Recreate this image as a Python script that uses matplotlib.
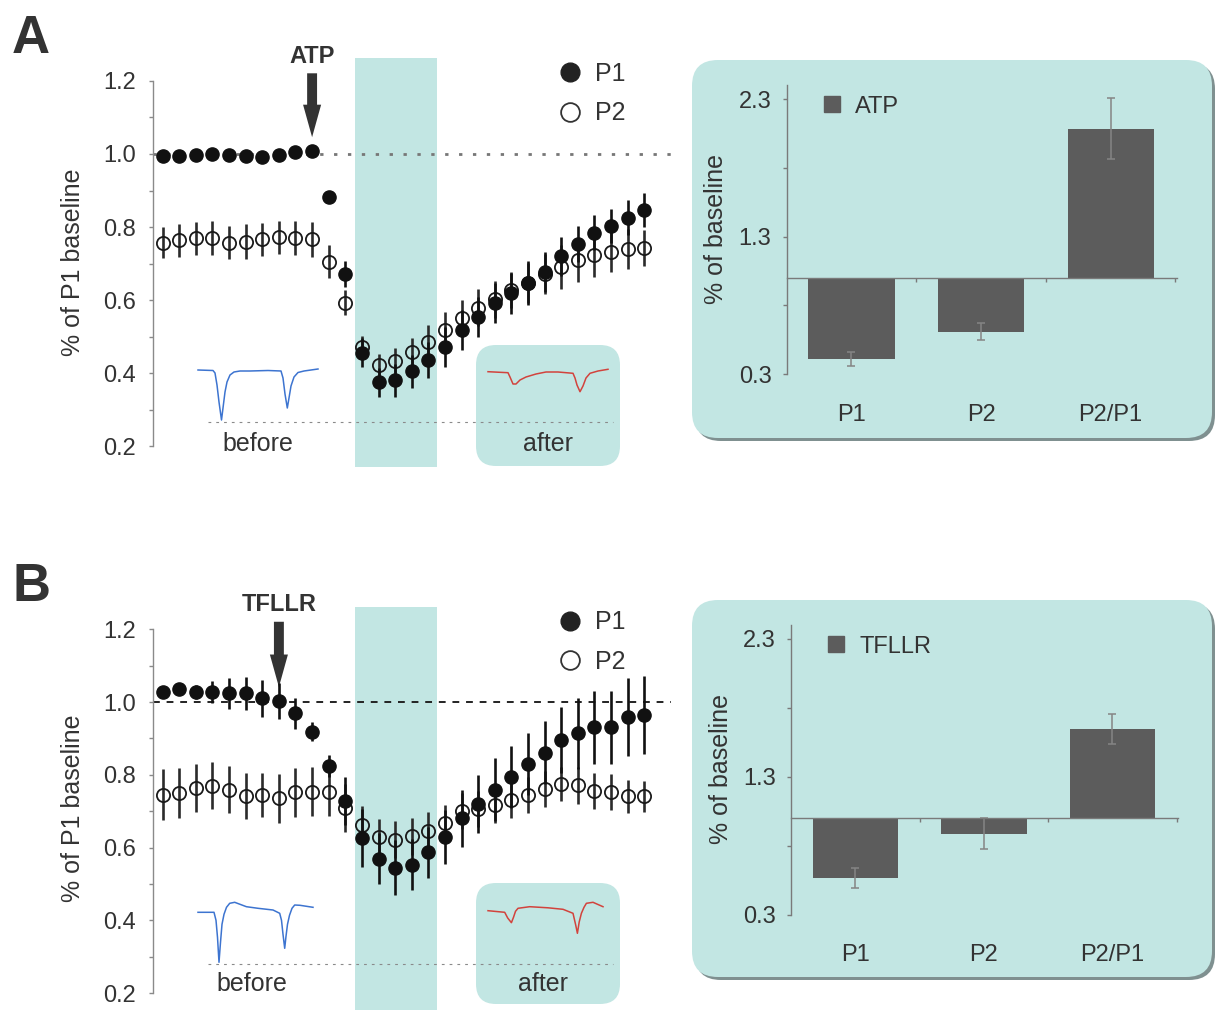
import matplotlib
matplotlib.use('Agg')
import matplotlib.pyplot as plt
from matplotlib.patches import FancyBboxPatch
from matplotlib.lines import Line2D
from matplotlib.transforms import blended_transform_factory

plt.rcParams['font.family'] = ['Liberation Sans', 'DejaVu Sans']

W, H = 1217, 1010
TEAL = '#c2e6e3'
TXT = '#333333'
SPINE = '#8a8a8a'

# ---------------- data ----------------
time_idx = list(range(30))
wash_first, wash_last = 12, 16

A_P1 = [0.995, 0.995, 0.998, 1.000, 0.997, 0.994, 0.992, 0.997, 1.005, 1.008,
        0.883, 0.671, 0.456, 0.375, 0.380, 0.405, 0.436, 0.472, 0.518, 0.554,
        0.591, 0.618, 0.647, 0.676, 0.720, 0.753, 0.784, 0.803, 0.826, 0.847]
A_P1_err = [0.006, 0.006, 0.006, 0.006, 0.006, 0.006, 0.006, 0.006, 0.006, 0.006,
            0.010, 0.035, 0.040, 0.040, 0.045, 0.045, 0.050, 0.055, 0.055, 0.055,
            0.055, 0.055, 0.060, 0.055, 0.053, 0.050, 0.048, 0.046, 0.048, 0.046]
A_P2 = [0.757, 0.764, 0.769, 0.769, 0.757, 0.760, 0.766, 0.772, 0.769, 0.766,
        0.705, 0.593, 0.472, 0.422, 0.434, 0.457, 0.486, 0.518, 0.550, 0.579,
        0.602, 0.627, 0.647, 0.672, 0.691, 0.710, 0.723, 0.732, 0.739, 0.743]
A_P2_err = [0.042, 0.045, 0.045, 0.047, 0.045, 0.048, 0.045, 0.045, 0.047, 0.047,
            0.045, 0.035, 0.030, 0.030, 0.035, 0.040, 0.045, 0.050, 0.050, 0.050,
            0.050, 0.050, 0.055, 0.055, 0.060, 0.060, 0.060, 0.055, 0.055, 0.050]

B_P1 = [1.028, 1.035, 1.027, 1.027, 1.024, 1.024, 1.010, 1.003, 0.969, 0.919,
        0.825, 0.727, 0.627, 0.569, 0.545, 0.553, 0.587, 0.629, 0.681, 0.720,
        0.759, 0.794, 0.829, 0.861, 0.896, 0.914, 0.930, 0.930, 0.958, 0.964]
B_P1_err = [0.010, 0.010, 0.020, 0.030, 0.042, 0.045, 0.050, 0.050, 0.043, 0.025,
            0.030, 0.066, 0.080, 0.070, 0.075, 0.070, 0.070, 0.075, 0.078, 0.080,
            0.087, 0.086, 0.085, 0.087, 0.090, 0.098, 0.099, 0.101, 0.107, 0.107]
B_P2 = [0.745, 0.750, 0.764, 0.770, 0.759, 0.741, 0.745, 0.736, 0.752, 0.754,
        0.752, 0.709, 0.663, 0.628, 0.622, 0.631, 0.647, 0.668, 0.700, 0.706,
        0.718, 0.732, 0.745, 0.761, 0.775, 0.771, 0.756, 0.753, 0.741, 0.741]
B_P2_err = [0.070, 0.068, 0.066, 0.065, 0.065, 0.063, 0.060, 0.067, 0.067, 0.068,
            0.064, 0.066, 0.050, 0.050, 0.050, 0.050, 0.050, 0.050, 0.050, 0.050,
            0.050, 0.050, 0.050, 0.050, 0.046, 0.050, 0.050, 0.050, 0.045, 0.043]

bar_categories = ['P1', 'P2', 'P2/P1']
A_bar = [0.411, 0.609, 2.087]
A_bar_err = [0.052, 0.060, 0.224]
B_bar = [0.565, 0.888, 1.647]
B_bar_err = [0.070, 0.110, 0.110]

y_ticks = [0.2, 0.4, 0.6, 0.8, 1.0, 1.2]
y_minor = [0.3, 0.5, 0.7, 0.9, 1.1]
bar_ticks = [0.3, 1.3, 2.3]
bar_minor = [0.8, 1.8]

# example current traces (arbitrary units), before & after
A_before_t = [0, 15, 17, 19, 21, 23.5, 25, 27, 29, 32, 36, 42, 52, 70, 83, 85, 87,
              89.3, 91, 93, 96, 100, 106, 120]
A_before_v = [0, -0.5, -3, -15, -32, -50, -38, -22, -12, -5, -2, -1, -1, -0.5, -1, -8, -24,
              -38, -28, -16, -7, -2.5, -1, 1]
A_after_t = [0, 20, 22, 25, 28, 32, 38, 48, 58, 70, 85, 87, 89, 92, 95, 98, 102, 110, 120]
A_after_v = [-1.7, -2.7, -7, -14, -14, -10, -7, -4, -2, -2, -3.3, -8, -15, -21.7, -16, -8,
             -3.3, -1, 0.7]
B_before_t = [0, 16, 18, 19.5, 21, 22.5, 24, 26, 28.5, 31.7, 36.7, 42, 48.4, 60, 75, 81.7,
              83.5, 85, 86.7, 88, 89.5, 91.5, 94, 96.7, 102, 115]
B_before_v = [0, 0, -8, -25, -50, -30, -12, -2, 5, 9, 10, 8, 5.6, 4, 2.3, -1,
              -8, -22, -36, -24, -12, -3, 4, 7.3, 7, 5]
B_after_t = [0, 16.7, 19.7, 23.4, 25.5, 27.5, 30, 41.7, 60, 75, 85, 87.7, 89.4, 91.2, 93.4,
             96, 98.4, 105, 115]
B_after_v = [1.6, 0, -5.7, -10.4, -5, 1, 4, 5.6, 4.5, 3, -1, -12.7, -21, -9.7, -1,
             5, 9, 10, 5.6]

# ---------------- figure ----------------
fig = plt.figure(figsize=(W / 100, H / 100), dpi=100)


def rect(x0, y0, x1, y1):
    return [x0 / W, 1 - y1 / H, (x1 - x0) / W, (y1 - y0) / H]


bg = fig.add_axes([0, 0, 1, 1], zorder=0)
bg.set_xlim(0, W)
bg.set_ylim(H, 0)
bg.axis('off')


def rbox(x0, y0, x1, y1, r, shadow=False):
    if shadow:
        bg.add_patch(FancyBboxPatch((x0 + 3, y0 + 3), x1 - x0, y1 - y0,
                                    boxstyle=f'round,pad=0,rounding_size={r}',
                                    fc='#7f9090', ec='none'))
    bg.add_patch(FancyBboxPatch((x0, y0), x1 - x0, y1 - y0,
                                boxstyle=f'round,pad=0,rounding_size={r}',
                                fc=TEAL, ec='none'))


# bar-panel backgrounds and "after" boxes
rbox(692, 60, 1212, 438, 26, shadow=True)
rbox(692, 600, 1212, 977, 26, shadow=True)
rbox(476, 345, 620, 466, 20)
rbox(476, 883, 620, 1004, 20)

# panel letters
fig.text(12 / W, 1 - 53 / H, 'A', fontsize=38, fontweight='bold', color=TXT, va='baseline')
fig.text(12 / W, 1 - 601 / H, 'B', fontsize=38, fontweight='bold', color=TXT, va='baseline')


def scatter_panel(box, ylim, P1, P1e, P2, P2e, dotted, arrow_idx, drug, drug_off):
    ax = fig.add_axes(rect(*box), zorder=1)
    ax.patch.set_alpha(0)
    ax.set_xlim(-0.584, 30.62)
    ax.set_ylim(*ylim)
    ax.axvspan(wash_first - 0.42, wash_last + 0.52, color=TEAL, lw=0, zorder=0)
    ax.axhline(1.0, **dotted, zorder=1)
    ax.errorbar(time_idx, P2, yerr=P2e, fmt='o', ms=9.5, mfc='none', mec='#1a1a1a',
                mew=1.3, ecolor='#2b2b2b', elinewidth=1.9, capsize=0, zorder=3)
    ax.errorbar(time_idx, P1, yerr=P1e, fmt='o', ms=9.5, mfc='#111111', mec='#111111',
                ecolor='#111111', elinewidth=1.9, capsize=0, zorder=4)
    for s in ['top', 'right', 'bottom']:
        ax.spines[s].set_visible(False)
    ax.spines['left'].set_bounds(0.2, 1.2)
    ax.spines['left'].set_color(SPINE)
    ax.spines['left'].set_linewidth(1.0)
    ax.set_xticks([])
    ax.set_yticks(y_ticks)
    ax.set_yticklabels([f'{v:.1f}' for v in y_ticks])
    ax.set_yticks(y_minor, minor=True)
    ax.tick_params(axis='y', which='both', direction='out', length=3, width=1,
                   color=SPINE, labelsize=17, labelcolor=TXT, pad=9)
    ax.set_ylabel('% of P1 baseline', fontsize=18, color=TXT)
    ax.yaxis.set_label_coords(-0.131, 0.5)
    handles = [Line2D([], [], marker='o', ls='none', ms=13.5, mfc='#222222', mec='#222222'),
               Line2D([], [], marker='o', ls='none', ms=13.5, mfc='none', mec='#333333', mew=1.3)]
    ax.legend(handles, ['P1', 'P2'], loc='center left', bbox_to_anchor=(0.781, 0.913),
              frameon=False, fontsize=18, handlelength=1.0, handletextpad=0.5,
              labelspacing=0.62, borderpad=0, borderaxespad=0, labelcolor=TXT)
    ax.annotate(drug, xy=(arrow_idx, P1[arrow_idx]), xytext=(0, drug_off),
                textcoords='offset points', ha='center', va='bottom',
                fontsize=17, fontweight='bold', color=TXT,
                arrowprops=dict(arrowstyle='simple,head_length=1.8,head_width=1.0,tail_width=0.55',
                                mutation_scale=13, fc='#333333', ec='none',
                                shrinkA=2, shrinkB=10))
    return ax


scatter_panel((153, 58, 671, 467), (0.1425, 1.263), A_P1, A_P1_err, A_P2, A_P2_err,
              dict(color='#777777', lw=2.0, ls=(0, (1.2, 3.8))), 9, 'ATP', 60)
scatter_panel((153, 607, 671, 1010), (0.154, 1.261), B_P1, B_P1_err, B_P2, B_P2_err,
              dict(color='#222222', lw=1.4, ls=(0, (3.5, 3.5))), 7, 'TFLLR', 61)


def trace_panel(box, v0_px, bt, bv, at, av, after_off, text_v, before_x, after_x):
    x0, y0, x1, y1 = box
    ax = fig.add_axes(rect(x0, y0, x1, y1), zorder=2)
    ax.patch.set_alpha(0)
    ax.axis('off')
    ax.set_xlim(190 - 198, x1 - 198)
    ax.set_ylim(v0_px - y1, v0_px - y0)
    ax.plot(bt, bv, color='#3d74d0', lw=1.1, solid_joinstyle='round')
    ax.plot([t + after_off for t in at], av, color='#d2433d', lw=1.1, solid_joinstyle='round')
    ax.hlines(min(bv) - 1.5, 10, 415, colors='#8a8a8a', lw=0.8, linestyles=[(0, (2.5, 4.5))])
    ax.text(before_x, text_v, 'before', ha='center', va='baseline', fontsize=18, color=TXT)
    ax.text(after_x, text_v, 'after', ha='center', va='baseline', fontsize=18, color=TXT)


trace_panel((190, 355, 620, 460), 370, A_before_t, A_before_v, A_after_t, A_after_v,
            290, -81, 60, 350)
trace_panel((190, 897, 620, 1002), 912.3, B_before_t, B_before_v, B_after_t, B_after_v,
            290, -78.7, 54, 345)


def bar_panel(box, ylim, vals, errs, drug, xlab_y):
    ax = fig.add_axes(rect(*box), zorder=1)
    ax.patch.set_alpha(0)
    ax.set_xlim(-0.5, 2.51)
    ax.set_ylim(*ylim)
    x = list(range(len(bar_categories)))
    ax.bar(x, [v - 1.0 for v in vals], bottom=1.0, width=0.665, color='#5c5c5c', zorder=2)
    ax.errorbar(x, vals, yerr=errs, fmt='none', ecolor='#858585', elinewidth=1.1,
                capsize=3, capthick=1.1, zorder=3)
    for s in ['top', 'right']:
        ax.spines[s].set_visible(False)
    ax.spines['left'].set_bounds(0.3, 2.4)
    ax.spines['bottom'].set_position(('data', 1.0))
    ax.spines['bottom'].set_bounds(-0.5, 2.51)
    for s in ['left', 'bottom']:
        ax.spines[s].set_color('#7a7a7a')
        ax.spines[s].set_linewidth(1.0)
        ax.spines[s].set_zorder(4)
    ax.set_yticks(bar_ticks)
    ax.set_yticklabels([f'{v:.1f}' for v in bar_ticks])
    ax.set_yticks(bar_minor, minor=True)
    ax.set_xticks([0.5, 1.5, 2.5])
    ax.set_xticklabels([])
    ax.tick_params(axis='both', which='both', direction='out', length=3, width=1,
                   color='#7a7a7a', labelsize=17, labelcolor=TXT, pad=8)
    tr = blended_transform_factory(ax.transData, ax.transAxes)
    for xi, lab in zip(x, bar_categories):
        ax.text(xi, xlab_y, lab, transform=tr, ha='center', va='center', fontsize=17, color=TXT)
    ax.set_ylabel('% of baseline', fontsize=18, color=TXT)
    ax.yaxis.set_label_coords(-0.15, 0.503)
    h = [Line2D([], [], marker='s', ls='none', ms=12, color='#5c5c5c')]
    ax.legend(h, [drug], loc='center left', bbox_to_anchor=(0.085, 0.911), frameon=False,
              fontsize=17, handlelength=1.0, handletextpad=0.5, borderpad=0,
              borderaxespad=0, labelcolor=TXT)


bar_panel((786.7, 80, 1176.7, 380), (0.258, 2.44), A_bar, A_bar_err, 'ATP', -0.117)
bar_panel((791, 620, 1178, 920), (0.2605, 2.437), B_bar, B_bar_err, 'TFLLR', -0.117)

fig.savefig('out.png', dpi=100)
